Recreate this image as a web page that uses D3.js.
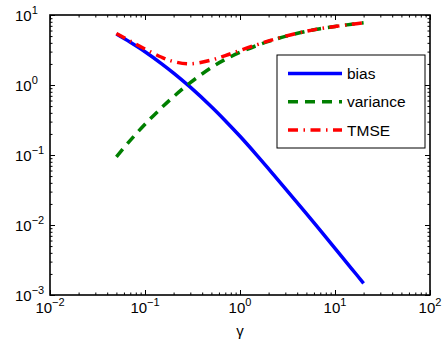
<!DOCTYPE html>
<html lang="en">
<head>
    <meta charset="UTF-8">
    <title>bias / variance / TMSE</title>
    <script src="https://d3js.org/d3.v7.min.js"></script>
    <style>
        body { margin: 0; background: #fff; }
        text { font-family: "Liberation Sans", Arial, Helvetica, sans-serif; }
    </style>
</head>
<body>
<script>
    const width = 448
    const height = 348

    // values
    const gamma    = [0.05, 0.07, 0.1, 0.15, 0.2, 0.3, 0.5, 0.7, 1, 1.5, 2, 3, 5, 7, 10, 15, 20]
    const bias     = [5.35, 4.08, 2.99, 2.01, 1.48, 0.931, 0.489, 0.309, 0.185, 0.0998, 0.0635, 0.0332, 0.0145, 0.00836, 0.00463, 0.00237, 0.00147]
    const variance = [0.094, 0.162, 0.275, 0.476, 0.682, 1.08, 1.78, 2.32, 2.93, 3.66, 4.2, 4.95, 5.86, 6.38, 6.85, 7.38, 7.73]
    const tmse     = [5.44, 4.24, 3.27, 2.49, 2.16, 2.01, 2.27, 2.63, 3.12, 3.76, 4.26, 4.98, 5.87, 6.39, 6.85, 7.38, 7.73]

    const xTicks = [-2, -1, 0, 1, 2]
    const yTicks = [-3, -2, -1, 0, 1]
    const legendNames = ["bias", "variance", "TMSE"]

    const margin = {left: 50, right: 18, top: 15, bottom: 53}

    let svg = d3.select("body").append("svg")
        .attr("width", width)
        .attr("height", height)

    const x = d3.scaleLog()
        .domain([1e-2, 1e2])
        .range([margin.left, width - margin.right])
    const y = d3.scaleLog()
        .domain([1e-3, 1e1])
        .range([height - margin.bottom, margin.top])

    const x0 = margin.left, x1 = width - margin.right
    const y0 = height - margin.bottom, y1 = margin.top

    // minor tick positions 2..9 x 10^k
    const minorX = []
    for (let k = -2; k < 2; k++) for (let m = 2; m < 10; m++) minorX.push(m * Math.pow(10, k))
    const minorY = []
    for (let k = -3; k < 1; k++) for (let m = 2; m < 10; m++) minorY.push(m * Math.pow(10, k))
    const majX = xTicks.map(e => Math.pow(10, e))
    const majY = yTicks.map(e => Math.pow(10, e))

    function addAxis(gen, tx, ty, vals, size) {
        let g = svg.append("g")
            .attr("transform", `translate(${tx},${ty})`)
            .call(gen.tickValues(vals).tickSize(-size).tickFormat(""))
        g.select(".domain").remove()
        g.selectAll("line").attr("stroke", "#000").attr("stroke-width", 1)
    }
    addAxis(d3.axisBottom(x), 0, y0, majX, 5)
    addAxis(d3.axisBottom(x), 0, y0, minorX, 2.5)
    addAxis(d3.axisTop(x), 0, y1, majX, 5)
    addAxis(d3.axisTop(x), 0, y1, minorX, 2.5)
    addAxis(d3.axisLeft(y), x0, 0, majY, 5)
    addAxis(d3.axisLeft(y), x0, 0, minorY, 2.5)
    addAxis(d3.axisRight(y), x1, 0, majY, 5)
    addAxis(d3.axisRight(y), x1, 0, minorY, 2.5)

    // box
    svg.append("rect")
        .attr("x", x0).attr("y", y1)
        .attr("width", x1 - x0).attr("height", y0 - y1)
        .attr("fill", "none")
        .attr("stroke", "#000")
        .attr("stroke-width", 1.6)

    // tick labels
    const sup = e => (e < 0 ? "\u2212" + (-e) : "" + e)
    let xl = svg.append("g").selectAll("text")
        .data(xTicks).enter().append("text")
        .attr("x", d => x(Math.pow(10, d)))
        .attr("y", y0 + 18)
        .attr("text-anchor", "middle")
        .attr("font-size", 15)
    xl.append("tspan").text("10")
    xl.append("tspan").attr("dy", -7).attr("font-size", 11).text(d => sup(d))

    let yl = svg.append("g").selectAll("text")
        .data(yTicks).enter().append("text")
        .attr("x", 15)
        .attr("y", d => y(Math.pow(10, d)) + 6)
        .attr("font-size", 15)
    yl.append("tspan").text("10")
    yl.append("tspan").attr("dy", -7).attr("font-size", 11).text(d => sup(d))

    svg.append("text")
        .attr("x", x(1)).attr("y", 336)
        .attr("text-anchor", "middle")
        .attr("font-size", 15)
        .text("\u03b3")

    // curves
    const series = [
        {vals: bias, color: "#0000ff", dash: null},
        {vals: variance, color: "#007f00", dash: "10,7"},
        {vals: tmse, color: "#ff0000", dash: "10,5.5,1.5,5.5"}
    ]
    const line = d3.line()
        .x(d => x(d[0]))
        .y(d => y(d[1]))
        .curve(d3.curveCatmullRom)

    svg.append("g").selectAll("path")
        .data(series).enter().append("path")
        .attr("d", s => line(gamma.map((g, i) => [g, s.vals[i]])))
        .attr("fill", "none")
        .attr("stroke", s => s.color)
        .attr("stroke-width", 3.5)
        .attr("stroke-dasharray", s => s.dash)

    // legend
    let lg = svg.append("g")
    lg.append("rect")
        .attr("x", 277).attr("y", 55)
        .attr("width", 148).attr("height", 93)
        .attr("fill", "#fff")
        .attr("stroke", "#000")
        .attr("stroke-width", 1)
    legendNames.forEach((name, i) => {
        const ly = 73.5 + i * 28.3
        lg.append("line")
            .attr("x1", 288).attr("x2", 342)
            .attr("y1", ly).attr("y2", ly)
            .attr("stroke", series[i].color)
            .attr("stroke-width", 3.5)
            .attr("stroke-dasharray", series[i].dash)
        lg.append("text")
            .attr("x", 347).attr("y", ly + 5.5)
            .attr("font-size", 15.5)
            .text(name)
    })
</script>
</body>
</html>
